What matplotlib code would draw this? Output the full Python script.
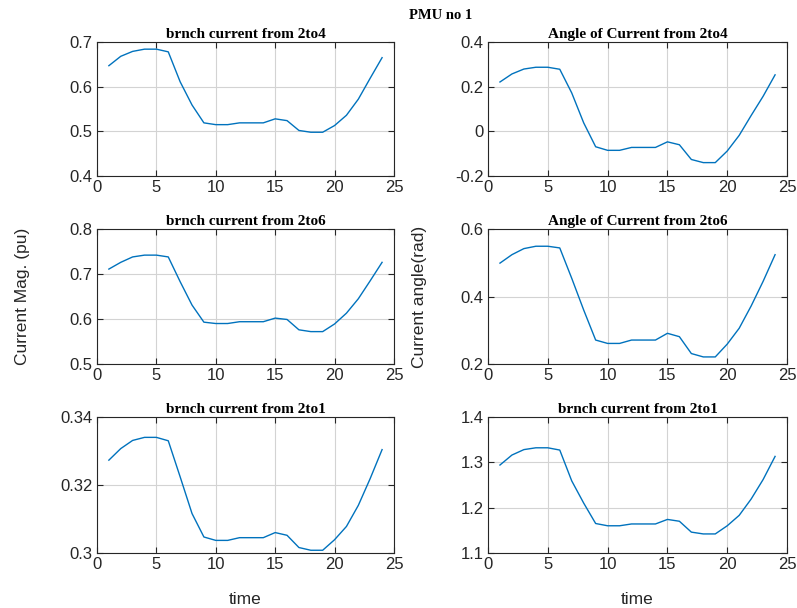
import matplotlib

matplotlib.use("Agg")
import matplotlib.pyplot as plt

# hours 1..24
time = list(range(1, 25))

mag_2to4 = [0.647, 0.668, 0.679, 0.684, 0.684, 0.678, 0.611, 0.559, 0.519, 0.515, 0.515, 0.519,
            0.519, 0.519, 0.528, 0.524, 0.502, 0.498, 0.498, 0.513, 0.536, 0.572, 0.619, 0.665]
ang_2to4 = [0.221, 0.257, 0.279, 0.287, 0.287, 0.278, 0.172, 0.038, -0.069, -0.085, -0.085, -0.072,
            -0.072, -0.072, -0.047, -0.060, -0.126, -0.140, -0.140, -0.088, -0.018, 0.071, 0.157, 0.253]
mag_2to6 = [0.711, 0.726, 0.738, 0.742, 0.742, 0.738, 0.683, 0.631, 0.593, 0.590, 0.590, 0.594,
            0.594, 0.594, 0.602, 0.599, 0.576, 0.572, 0.572, 0.589, 0.613, 0.645, 0.685, 0.726]
ang_2to6 = [0.499, 0.524, 0.542, 0.549, 0.549, 0.544, 0.454, 0.360, 0.271, 0.261, 0.261, 0.271,
            0.271, 0.271, 0.291, 0.281, 0.231, 0.221, 0.221, 0.259, 0.306, 0.372, 0.445, 0.524]
mag_2to1 = [0.3273, 0.3307, 0.3331, 0.3340, 0.3340, 0.3330, 0.3224, 0.3116, 0.3047, 0.3037, 0.3037, 0.3045,
            0.3045, 0.3045, 0.3060, 0.3052, 0.3016, 0.3008, 0.3008, 0.3039, 0.3078, 0.3140, 0.3219, 0.3304]
ang_2to1 = [1.294, 1.316, 1.328, 1.332, 1.332, 1.327, 1.259, 1.210, 1.165, 1.160, 1.160, 1.164,
            1.164, 1.164, 1.174, 1.170, 1.146, 1.142, 1.142, 1.160, 1.183, 1.219, 1.262, 1.313]

titles = [
    "brnch current from 2to4", "Angle of Current from 2to4",
    "brnch current from 2to6", "Angle of Current from 2to6",
    "brnch current from 2to1", "brnch current from 2to1",
]
series = [mag_2to4, ang_2to4, mag_2to6, ang_2to6, mag_2to1, ang_2to1]
ylims = [(0.4, 0.7), (-0.2, 0.4), (0.5, 0.8), (0.2, 0.6), (0.3, 0.34), (1.1, 1.4)]
yticks = [
    [0.4, 0.5, 0.6, 0.7], [-0.2, 0, 0.2, 0.4],
    [0.5, 0.6, 0.7, 0.8], [0.2, 0.4, 0.6],
    [0.3, 0.32, 0.34], [1.1, 1.2, 1.3, 1.4],
]
yticklabels = [
    ["0.4", "0.5", "0.6", "0.7"], ["-0.2", "0", "0.2", "0.4"],
    ["0.5", "0.6", "0.7", "0.8"], ["0.2", "0.4", "0.6"],
    ["0.3", "0.32", "0.34"], ["1.1", "1.2", "1.3", "1.4"],
]
xticks = [0, 5, 10, 15, 20, 25]

LINE_COLOR = "#0072BD"
TEXT_COLOR = "#262626"
SERIF = "Liberation Serif"
SANS = "Liberation Sans"

fig = plt.figure(figsize=(7.97, 6.08), dpi=100)

col_left = [0.1217, 0.6123]
col_width = [0.3726, 0.3752]
row_bottom = [0.7105, 0.4013, 0.0905]
row_height = [0.2204, 0.2220, 0.2237]

for i in range(6):
    r, c = divmod(i, 2)
    ax = fig.add_axes([col_left[c], row_bottom[r], col_width[c], row_height[r]])
    ax.plot(time, series[i], color=LINE_COLOR, linewidth=1.0)
    ax.set_xlim(0, 25)
    ax.set_ylim(*ylims[i])
    ax.set_xticks(xticks)
    ax.set_xticklabels([str(t) for t in xticks], fontfamily=SANS, fontsize=12, color=TEXT_COLOR)
    ax.set_yticks(yticks[i])
    ax.set_yticklabels(yticklabels[i], fontfamily=SANS, fontsize=12, color=TEXT_COLOR)
    ax.tick_params(direction="in", length=4, width=0.8, top=True, right=True, color=TEXT_COLOR, pad=3)
    ax.grid(True, color="#d3d3d3", linewidth=0.8)
    ax.set_axisbelow(True)
    for spine in ax.spines.values():
        spine.set_color(TEXT_COLOR)
        spine.set_linewidth(0.8)
    ax.set_title(titles[i], fontfamily=SERIF, fontweight="bold", fontsize=11, pad=3)
    if r == 2:
        ax.set_xlabel("time", fontfamily=SANS, fontsize=12.5, color=TEXT_COLOR, labelpad=14)
    if r == 1:
        label = "Current Mag. (pu)" if c == 0 else "Current angle(rad)"
        pad = 29 if c == 0 else 24
        ax.set_ylabel(label, fontfamily=SANS, fontsize=12.5, color=TEXT_COLOR, labelpad=pad)

fig.text(0.553, 0.975, "PMU no 1", ha="center", va="center", fontfamily=SERIF, fontweight="bold", fontsize=10.5)

fig.savefig("out.png", dpi=100)
